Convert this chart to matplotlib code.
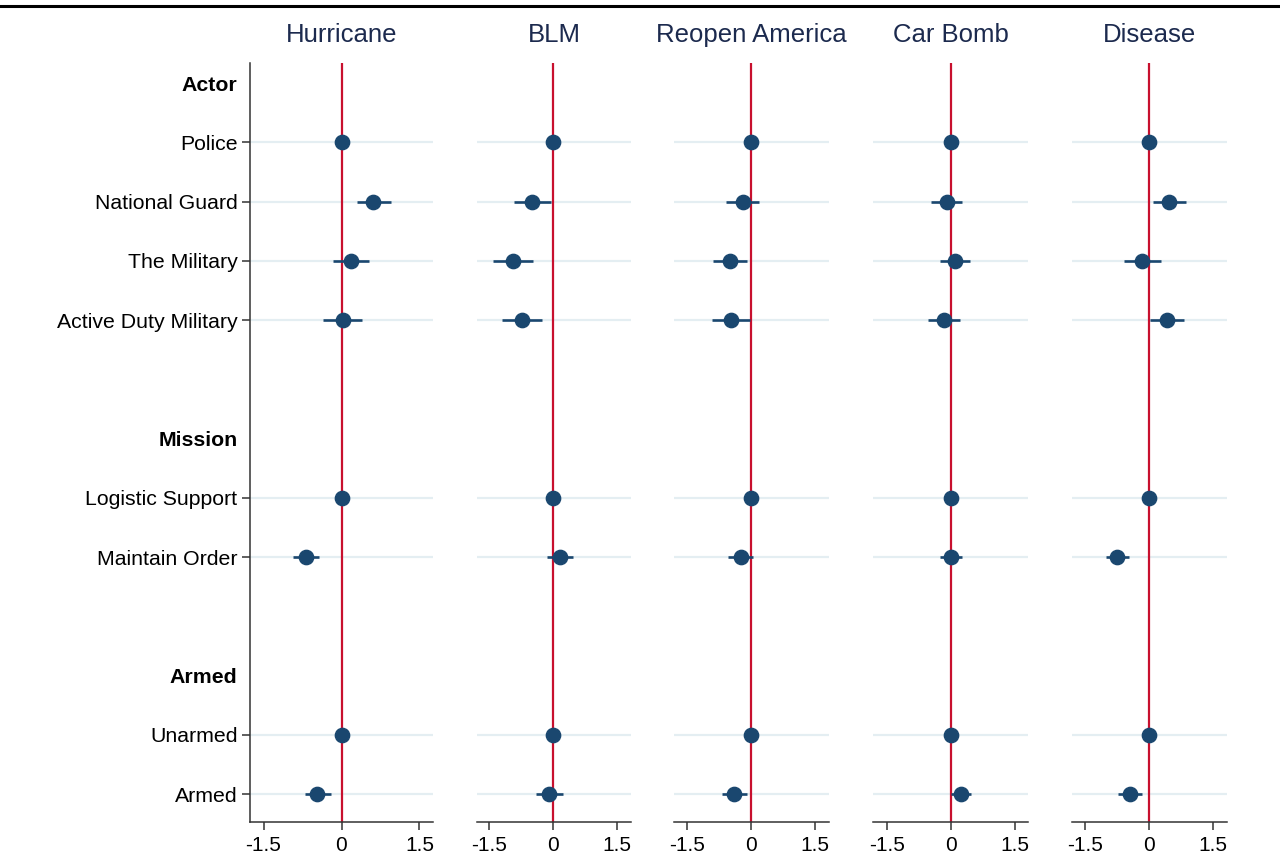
import matplotlib
matplotlib.use("Agg")
import matplotlib.pyplot as plt
from matplotlib.lines import Line2D
import numpy as np

plt.rcParams["font.family"] = ["Liberation Sans", "DejaVu Sans"]

# row labels top to bottom; None = empty spacer row, headers are bold
row_labels = ["Actor", "Police", "National Guard", "The Military", "Active Duty Military", None,
              "Mission", "Logistic Support", "Maintain Order", None,
              "Armed", "Unarmed", "Armed"]
header_rows = [0, 6, 10]
data_rows = [1, 2, 3, 4, 7, 8, 11, 12]

scenarios = ["Hurricane", "BLM", "Reopen America", "Car Bomb", "Disease"]

# point estimates for data_rows (reference categories are 0 with no interval)
hurricane = [0.0, 0.61, 0.18, 0.03, 0.0, -0.68, 0.0, -0.47]
hurricane_lo = [np.nan, 0.30, -0.16, -0.36, np.nan, -0.93, np.nan, -0.70]
hurricane_hi = [np.nan, 0.95, 0.53, 0.39, np.nan, -0.43, np.nan, -0.20]

blm = [0.0, -0.49, -0.94, -0.73, 0.0, 0.16, 0.0, -0.09]
blm_lo = [np.nan, -0.91, -1.40, -1.19, np.nan, -0.15, np.nan, -0.40]
blm_hi = [np.nan, -0.05, -0.47, -0.26, np.nan, 0.48, np.nan, 0.23]

reopen = [0.0, -0.20, -0.51, -0.48, 0.0, -0.25, 0.0, -0.41]
reopen_lo = [np.nan, -0.60, -0.90, -0.91, np.nan, -0.55, np.nan, -0.69]
reopen_hi = [np.nan, 0.19, -0.09, -0.04, np.nan, 0.04, np.nan, -0.11]

carbomb = [0.0, -0.09, 0.10, -0.15, 0.0, 0.01, 0.0, 0.23]
carbomb_lo = [np.nan, -0.46, -0.25, -0.53, np.nan, -0.25, np.nan, 0.00]
carbomb_hi = [np.nan, 0.27, 0.45, 0.22, np.nan, 0.27, np.nan, 0.48]

disease = [0.0, 0.48, -0.15, 0.42, 0.0, -0.75, 0.0, -0.45]
disease_lo = [np.nan, 0.09, -0.59, 0.02, np.nan, -1.00, np.nan, -0.73]
disease_hi = [np.nan, 0.87, 0.28, 0.82, np.nan, -0.47, np.nan, -0.15]

estimates = [hurricane, blm, reopen, carbomb, disease]
lows = [hurricane_lo, blm_lo, reopen_lo, carbomb_lo, disease_lo]
highs = [hurricane_hi, blm_hi, reopen_hi, carbomb_hi, disease_hi]

xticks = [-1.5, 0, 1.5]
xtick_labels = ["-1.5", "0", "1.5"]

NAVY = "#1a476f"
RED = "#c8102e"
GRID = "#e4eef2"
TITLE = "#1c2a4e"

W, H = 1280, 866
fig = plt.figure(figsize=(W / 100, H / 100), dpi=100)

# panel pixel extents (left, right) and x-limits
panel_px = [(250, 433), (477, 631), (674, 829), (873, 1028), (1072, 1227)]
panel_xlim = [(-1.76, 1.76), (-1.78, 1.83), (-1.81, 1.82), (-1.82, 1.81), (-1.80, 1.83)]
top_px, bot_px = 63, 822

for i, name in enumerate(scenarios):
    l, r = panel_px[i]
    ax = fig.add_axes([l / W, 1 - bot_px / H, (r - l) / W, (bot_px - top_px) / H])
    ax.set_xlim(*panel_xlim[i])
    ax.set_ylim(12.47, -0.34)

    for y in data_rows:
        ax.axhline(y, color=GRID, lw=1.6, zorder=0)
    ax.axvline(0, color=RED, lw=1.6, zorder=1)

    est = np.array(estimates[i])
    lo = np.array(lows[i])
    hi = np.array(highs[i])
    ys = np.array(data_rows)
    ax.hlines(ys, lo, hi, color=NAVY, lw=1.9, zorder=2)
    ax.plot(est, ys, "o", color=NAVY, ms=10.3, zorder=3)

    ax.set_xticks(xticks)
    ax.set_xticklabels(xtick_labels, fontsize=15)
    ax.tick_params(axis="x", length=6, width=1.1, color="#333333", pad=4)
    ax.set_title(name, fontsize=18.5, color=TITLE, pad=15)

    for s in ["top", "right"]:
        ax.spines[s].set_visible(False)
    ax.spines["bottom"].set_linewidth(1.1)
    ax.spines["bottom"].set_color("#333333")

    if i == 0:
        rows = [k for k, lab in enumerate(row_labels) if lab is not None]
        ax.set_yticks(rows)
        ax.set_yticklabels([row_labels[k] for k in rows], fontsize=15.3)
        ax.tick_params(axis="y", length=6, width=1.1, color="#333333", pad=3)
        ax.spines["left"].set_linewidth(1.1)
        ax.spines["left"].set_color("#333333")
        for k, tick in zip(rows, ax.yaxis.get_major_ticks()):
            if k in header_rows:
                tick.tick1line.set_visible(False)
                tick.label1.set_fontweight("bold")
    else:
        ax.spines["left"].set_visible(False)
        ax.set_yticks([])

fig.add_artist(Line2D([0, 1], [1 - 6 / H, 1 - 6 / H], color="black", lw=2.2))

fig.savefig("out.png", dpi=100)
